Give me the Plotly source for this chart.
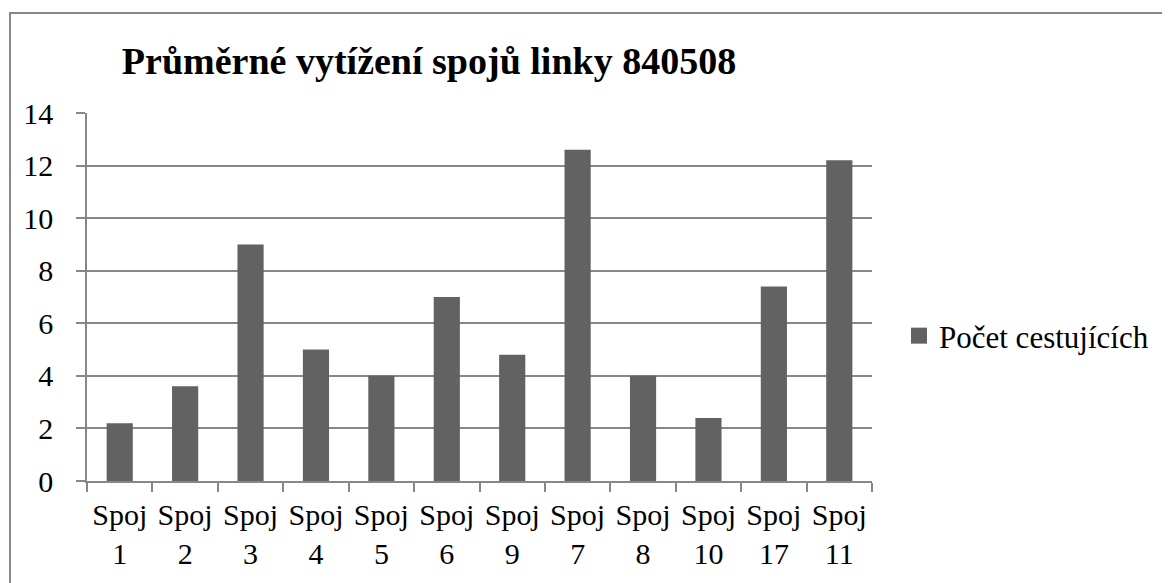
import plotly.graph_objects as go

categories = ["Spoj<br>1", "Spoj<br>2", "Spoj<br>3", "Spoj<br>4", "Spoj<br>5", "Spoj<br>6",
              "Spoj<br>9", "Spoj<br>7", "Spoj<br>8", "Spoj<br>10", "Spoj<br>17", "Spoj<br>11"]
passengers = [2.2, 3.6, 9, 5, 4, 7, 4.8, 12.6, 4, 2.4, 7.4, 12.2]
series_name = "Počet cestujících"
title_text = "Průměrné vytížení spojů linky 840508"
y_ticks = [0, 2, 4, 6, 8, 10, 12, 14]

FONT = "Liberation Serif"
GRID = "#878787"
BAR = "#626262"

# page has an 8px body margin; work in page pixels and convert
OFF = 8
W, H = 1170 - OFF, 583 - OFF
PX0, PX1 = 87, 872      # plot area in page pixels (x)
PY0, PY1 = 113, 481     # plot area in page pixels (y top, y bottom)
L, R = PX0 - OFF, W - (PX1 - OFF)
T, B = PY0 - OFF, H - (PY1 - OFF)
pw, ph = PX1 - PX0, PY1 - PY0

def px_to_paper_x(px):
    return (px - PX0) / pw

def px_to_paper_y(py):
    return (PY1 - py) / ph

fig = go.Figure()
fig.add_trace(go.Bar(x=categories, y=passengers, name=series_name,
                     marker=dict(color=BAR, line=dict(width=0)),
                     showlegend=False))
# legend entry with a larger square swatch, as in the reference
fig.add_trace(go.Scatter(x=[None], y=[None], mode="markers", name=series_name,
                         marker=dict(symbol="square", size=16, color=BAR),
                         showlegend=True, hoverinfo="skip"))

fig.update_layout(
    width=W, height=H,
    margin=dict(l=L, r=R, t=T, b=B, autoexpand=False),
    paper_bgcolor="white", plot_bgcolor="white",
    font=dict(family=FONT, size=30, color="black"),
    bargap=0.6,
    title=dict(text=f"<b>{title_text}</b>", font=dict(family=FONT, size=38, color="black"),
               x=(429 - OFF) / W, xanchor="center", y=1 - (61 - OFF) / H, yanchor="middle"),
    showlegend=True,
    legend=dict(x=px_to_paper_x(899), xanchor="left", y=px_to_paper_y(336), yanchor="middle",
                font=dict(family=FONT, size=31, color="black"), bgcolor="rgba(0,0,0,0)"),
    xaxis=dict(type="category", tickson="boundaries", ticks="outside", ticklen=9,
               tickcolor=GRID, tickwidth=1.5, showgrid=False, showline=True,
               linecolor=GRID, linewidth=1.5, ticklabelstandoff=6, automargin=False,
               tickfont=dict(family=FONT, size=30, color="black")),
    yaxis=dict(range=[0, 14], tickvals=y_ticks, ticks="outside", ticklen=9,
               tickcolor=GRID, tickwidth=1.5, showgrid=True, gridcolor=GRID, gridwidth=1.5,
               showline=True, linecolor=GRID, linewidth=1.5, zeroline=False,
               ticklabelstandoff=17, automargin=False,
               tickfont=dict(family=FONT, size=30, color="black")),
    shapes=[dict(type="rect", xref="paper", yref="paper",
                 x0=px_to_paper_x(10), x1=px_to_paper_x(1200),
                 y0=px_to_paper_y(620), y1=px_to_paper_y(13),
                 line=dict(color=GRID, width=2), fillcolor="rgba(0,0,0,0)", layer="below")],
)

fig.write_html("out.html")
